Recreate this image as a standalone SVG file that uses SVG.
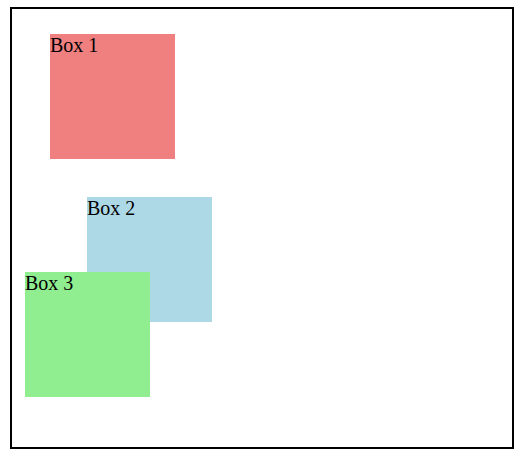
<svg xmlns="http://www.w3.org/2000/svg" width="519" height="460" viewBox="0 0 519 460">
  <style>
    .frame { fill: #ffffff; stroke: #000000; stroke-width: 2; }
    .label { font-family: "Liberation Serif", "Times New Roman", serif; font-size: 20px; fill: #000000; }
  </style>
  <rect x="0" y="0" width="519" height="460" fill="#ffffff"/>
  <rect class="frame" x="11" y="8" width="502" height="440"/>
  <g id="connectors"></g>
  <g id="box1">
    <rect x="50" y="34" width="125" height="125" fill="#F08080"/>
    <text class="label" x="50" y="52">Box 1</text>
  </g>
  <g id="box2">
    <rect x="87" y="197" width="125" height="125" fill="#ADD8E6"/>
    <text class="label" x="87" y="215">Box 2</text>
  </g>
  <g id="box3">
    <rect x="25" y="272" width="125" height="125" fill="#90EE90"/>
    <text class="label" x="25" y="290">Box 3</text>
  </g>
</svg>
